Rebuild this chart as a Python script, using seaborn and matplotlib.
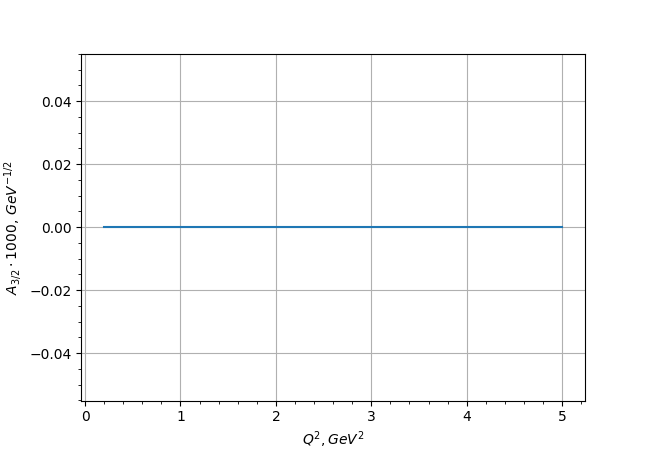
import numpy as np
import pandas as pd
import matplotlib
matplotlib.use("Agg")
import matplotlib.pyplot as plt
import seaborn as sns

q2 = [0.2, 0.5, 1.0, 1.5, 2.0, 2.5, 3.0, 3.5, 4.0, 4.5, 5.0]
a32 = [0.0, 0.0, 0.0, 0.0, 0.0, 0.0, 0.0, 0.0, 0.0, 0.0, 0.0]

df = pd.DataFrame({"Q2": q2, "A32": a32})

fig, ax = plt.subplots(figsize=(6.5, 4.5), dpi=100)
sns.lineplot(data=df, x="Q2", y="A32", ax=ax, color="#1f77b4")
ax.set_xlabel(r"$Q^2, GeV^2$")
ax.set_ylabel(r"$A_{3/2} \cdot 1000,\, GeV^{-1/2}$")
ax.minorticks_on()
ax.grid(True, which="major")
plt.savefig("out.png", dpi=100)
plt.close()
